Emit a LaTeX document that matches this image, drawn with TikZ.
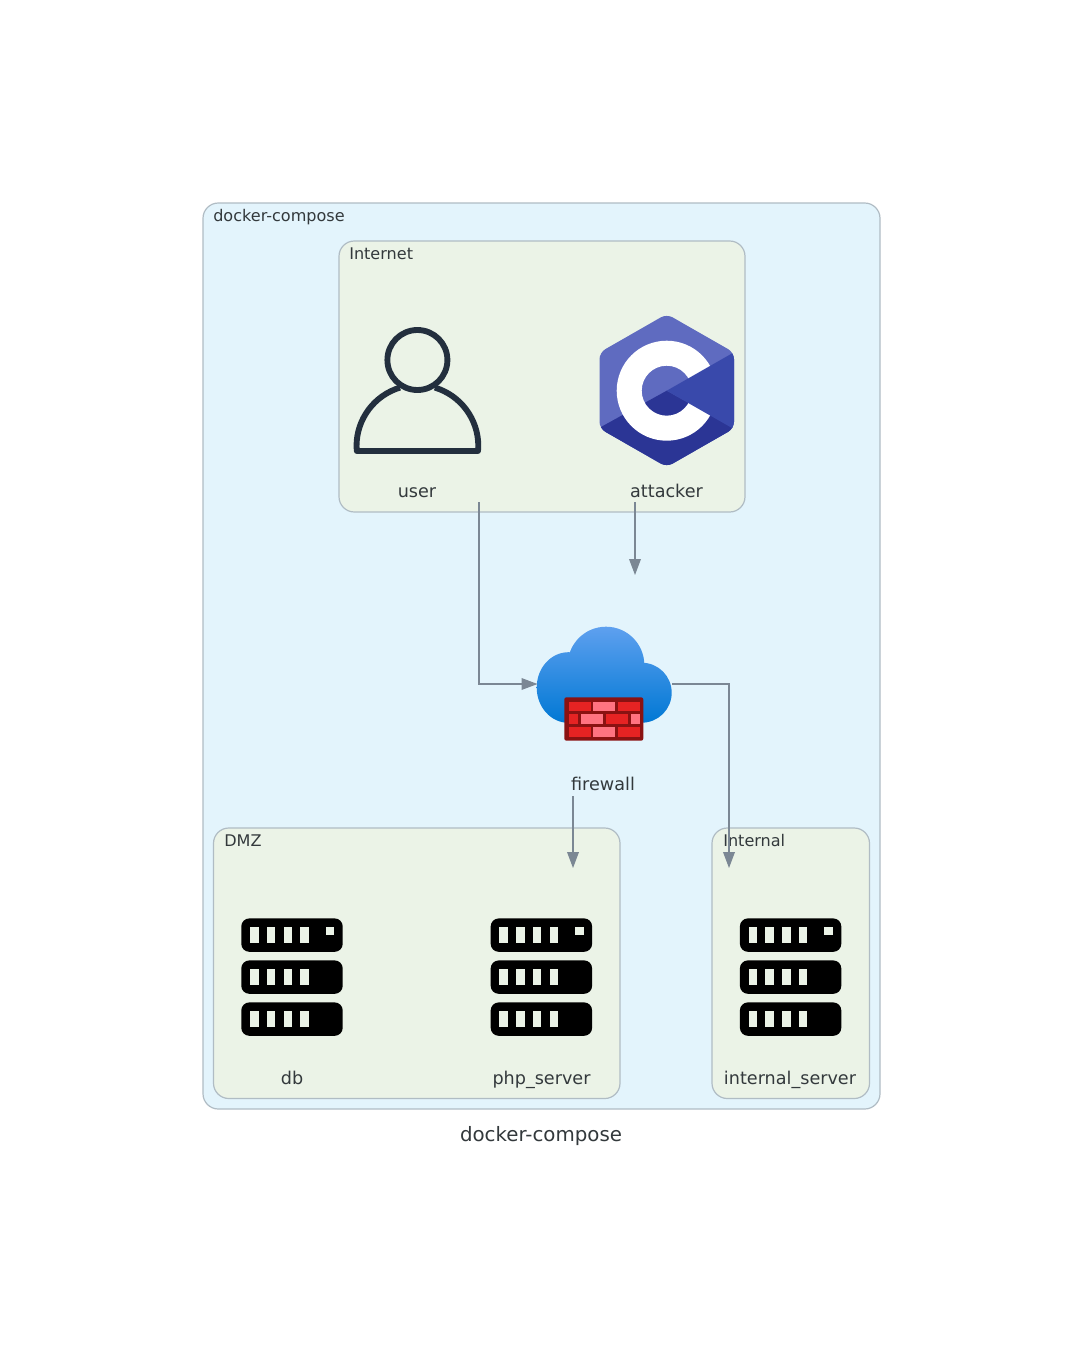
\documentclass[tikz,border=0pt]{standalone}
\usepackage{fontspec}
\setmainfont{DejaVu Sans}
\usetikzlibrary{arrows.meta}
\definecolor{outerfill}{HTML}{E3F4FC}
\definecolor{innerfill}{HTML}{EBF3E7}
\definecolor{clusterline}{HTML}{B0BCC4}
\definecolor{linkgray}{HTML}{7B8794}
\definecolor{textdark}{HTML}{33393C}
\definecolor{userdark}{HTML}{232F3E}
\definecolor{cpplight}{HTML}{5F6BC0}
\definecolor{cppmid}{HTML}{3949AB}
\definecolor{cppdark}{HTML}{2B3595}
\definecolor{cloudtop}{HTML}{5EA0EF}
\definecolor{cloudbot}{HTML}{0078D4}
\definecolor{wallframe}{HTML}{8A1212}
\definecolor{wallred}{HTML}{E62323}
\definecolor{wallpink}{HTML}{FF7381}
\tikzset{
  cluster/.style={draw=clusterline,line width=0.9pt,rounded corners=11.5pt},
  clustertitle/.style={anchor=base west,inner sep=0pt,text=textdark,font=\fontsize{12.05}{14}\selectfont},
  nodelabel/.style={anchor=base,inner sep=0pt,text=textdark,font=\fontsize{13.2}{15}\selectfont},
  maintitle/.style={anchor=base,inner sep=0pt,text=textdark,font=\fontsize{14.85}{18}\selectfont},
  link/.style={draw=linkgray,line width=0.85pt,-{Triangle[length=12pt,width=8.8pt,fill=linkgray]}},
  brickred/.style={fill=wallred},
  brickpink/.style={fill=wallpink},
  pics/serverrack/.style={code={
    \foreach \ry in {0,42,84}{
      \fill[black,rounded corners=6pt] (241.3,918.4+\ry) rectangle (342.7,951.8+\ry);
      \foreach \wx in {250,266.7,283.5,300.3}{
        \fill[innerfill] (\wx,926.7+\ry) rectangle ++(8.5,16.6);
      }
    }
    \fill[innerfill] (325.7,926.7) rectangle (334.3,935);
  }},
}
\begin{document}
\begin{tikzpicture}[x=0.75pt,y=-0.75pt]
\useasboundingbox (0,0) rectangle (1083,1345);
\fill[white] (0,0) rectangle (1083,1345);
% clusters
\path[cluster,fill=outerfill] (203,203) rectangle (880,1109);
\path[cluster,fill=innerfill] (339,241) rectangle (745,512);
\path[cluster,fill=innerfill] (213.5,828) rectangle (620,1098.5);
\path[cluster,fill=innerfill] (712,828) rectangle (869.5,1098.5);
\node[clustertitle] (tOuter) at (213,221.5) {docker-compose};
\node[clustertitle] (tInternet) at (349,259.5) {Internet};
\node[clustertitle] (tDMZ) at (224,846.5) {DMZ};
\node[clustertitle] (tInternal) at (723,846.5) {Internal};
% user icon
\draw[userdark,line width=4.4pt] (417.4,360) circle (30);
\draw[userdark,line width=4.4pt,line join=round]
  (400,387.6) arc[start angle=253.3,end angle=180,radius=61]
  -- (356.8,451) -- (478,451) -- (478.3,446)
  arc[start angle=0,end angle=-73.3,radius=61];
% attacker icon
\begin{scope}
  \clip[rounded corners=5pt] (666.7,314) -- (734,352.5) -- (734,428.5) -- (666.7,467) -- (599.5,428.5) -- (599.5,352.5) -- cycle;
  \fill[cpplight] (590,300) rectangle (745,480);
  \fill[cppdark] (745,434) -- (745,480) -- (590,480) -- (590,433) -- (666.7,390.7) -- cycle;
  \fill[white,even odd rule] (666.7,390.7) circle (50) (666.7,390.7) circle (25);
  \fill[cppmid] (666.7,390.7) -- (745,346) -- (745,435.4) -- cycle;
\end{scope}
% firewall icon
\shade[top color=cloudtop,bottom color=cloudbot]
  (606,665) circle (38.3)
  (568.4,687.5) ellipse (31.7 and 35.3)
  (641.7,692.7) circle (30)
  (604,695) ellipse (50 and 28);
\fill[wallframe,rounded corners=1.6pt] (564.3,697.3) rectangle (643.3,740.7);
\foreach \yy in {701.7,727.1}{
  \fill[brickred] (569,\yy) rectangle (590.7,\yy+9.6);
  \fill[brickpink] (593.3,\yy) rectangle (615.3,\yy+9.6);
  \fill[brickred] (618,\yy) rectangle (640,\yy+9.6);
}
\fill[brickred] (569,714.3) rectangle (578,724);
\fill[brickpink] (581,714.3) rectangle (602.7,724);
\fill[brickred] (605.7,714.3) rectangle (627.7,724);
\fill[brickpink] (630.7,714.3) rectangle (640,724);
% server icons
\pic at (0,0) {serverrack};
\pic at (249.4,0) {serverrack};
\pic at (498.6,0) {serverrack};
% labels
\node[nodelabel] (user) at (417,497.5) {user};
\node[nodelabel] (attacker) at (666.5,497.5) {attacker};
\node[nodelabel] (firewall) at (603,790.5) {firewall};
\node[nodelabel] (db) at (292,1084) {db};
\node[nodelabel] (php) at (541.5,1084) {php\_server};
\node[nodelabel] (internal) at (790,1084) {internal\_server};
\node[maintitle] (title) at (541,1141) {docker-compose};
% connectors
\coordinate (userOut) at (479,502);
\coordinate (fwIn) at (537.5,684);
\coordinate (attOut) at (635,502);
\coordinate (attIn) at (635,575);
\coordinate (fwOutL) at (573,796);
\coordinate (phpIn) at (573,868);
\coordinate (fwOutR) at (672,684);
\coordinate (intIn) at (729,868);
\draw[link] (userOut) |- (fwIn);
\draw[link] (attOut) -- (attIn);
\draw[link] (fwOutL) -- (phpIn);
\draw[link] (fwOutR) -| (intIn);
\end{tikzpicture}
\end{document}
